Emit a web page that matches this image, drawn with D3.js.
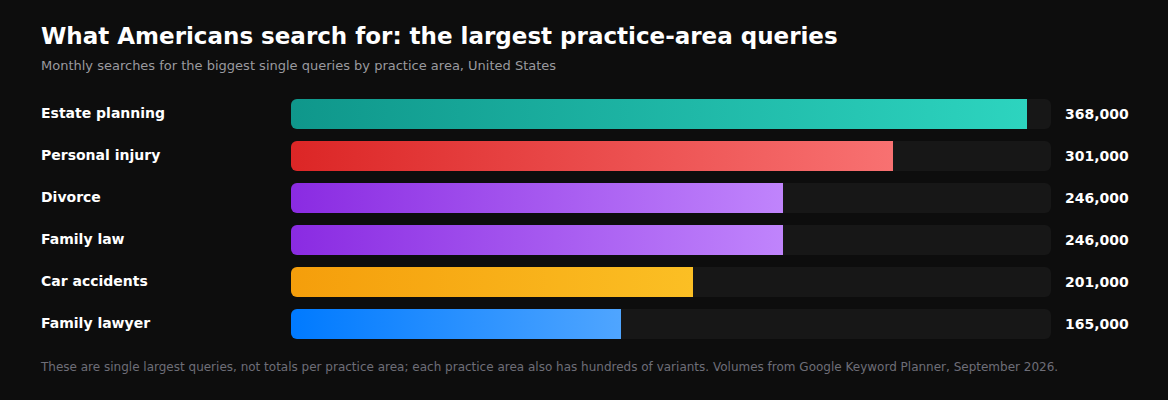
<!DOCTYPE html>
<html><head><meta charset="utf-8">
<script src="https://cdn.jsdelivr.net/npm/d3@7"></script>
<style>
html,body{margin:0;padding:0;background:#0d0d0d;}
svg{display:block;font-family:"DejaVu Sans",sans-serif;}
</style></head>
<body>
<svg id="chart" width="1168" height="400"></svg>
<script>
const categories = ["Estate planning","Personal injury","Divorce","Family law","Car accidents","Family lawyer"];
const values = [368000,301000,246000,246000,201000,165000];
const colorStart = ["#0f978b","#dc2626","#8a2be2","#8a2be2","#f59e0b","#007aff"];
const colorEnd = ["#2dd4bf","#f87171","#c084fc","#c084fc","#fbbf24","#4fa5ff"];
const title = "What Americans search for: the largest practice-area queries";
const subtitle = "Monthly searches for the biggest single queries by practice area, United States";
const footnote = "These are single largest queries, not totals per practice area; each practice area also has hundreds of variants. Volumes from Google Keyword Planner, September 2026.";

const svg = d3.select("#chart");
svg.append("rect").attr("width",1168).attr("height",400).attr("fill","#0d0d0d");

svg.append("text").attr("x",41).attr("y",44).attr("fill","#ffffff")
  .attr("font-size",23).attr("font-weight","bold").text(title);
svg.append("text").attr("x",41).attr("y",70).attr("fill","#9a9a9f")
  .attr("font-size",13).text(subtitle);

const x = d3.scaleLinear().domain([0,380000]).range([291,1051]);
const y = d3.scaleBand().domain(categories).range([99,339]).paddingInner(12/42).paddingOuter(0);
const bh = y.bandwidth();

const defs = svg.append("defs");
categories.forEach((c,i)=>{
  const g = defs.append("linearGradient").attr("id","g"+i).attr("x1","0%").attr("x2","100%");
  g.append("stop").attr("offset","0%").attr("stop-color",colorStart[i]);
  g.append("stop").attr("offset","100%").attr("stop-color",colorEnd[i]);
});

const rows = svg.selectAll("g.row").data(categories).join("g").attr("class","row");
rows.append("rect").attr("x",x(0)).attr("y",d=>y(d)).attr("width",x.range()[1]-x(0))
  .attr("height",bh).attr("rx",6).attr("fill","#171717");

const r = 6;
rows.append("path").attr("fill",(d,i)=>`url(#g${i})`)
  .attr("d",(d,i)=>{
    const x0 = x(0), x1 = x(values[i]), y0 = y(d), y1 = y0+bh;
    return `M${x0+r},${y0}H${x1}V${y1}H${x0+r}A${r},${r} 0 0 1 ${x0},${y1-r}V${y0+r}A${r},${r} 0 0 1 ${x0+r},${y0}Z`;
  });

rows.append("text").attr("x",41).attr("y",d=>y(d)+bh/2-1).attr("dy","0.35em")
  .attr("fill","#ffffff").attr("font-size",14).attr("font-weight","bold").text(d=>d);
rows.append("text").attr("x",1065).attr("y",d=>y(d)+bh/2).attr("dy","0.35em")
  .attr("fill","#ffffff").attr("font-size",14).attr("font-weight","bold")
  .text((d,i)=>d3.format(",")(values[i]));

svg.append("text").attr("x",41).attr("y",371).attr("fill","#6e6e78")
  .attr("font-size",12).text(footnote);
</script>
</body></html>
